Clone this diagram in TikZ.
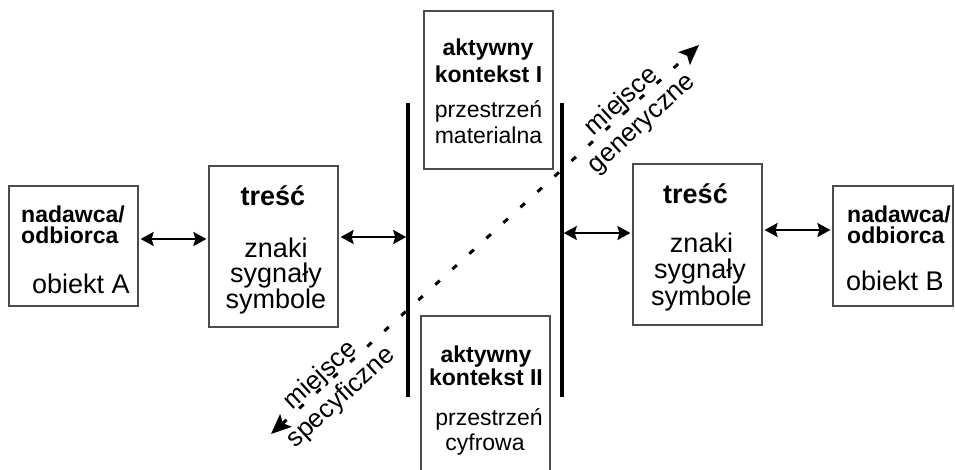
\documentclass[tikz,border=0pt]{standalone}
\usepackage{fontspec}
\setmainfont{Liberation Sans}
\usetikzlibrary{arrows.meta}
\tikzset{
  box/.style={draw=black!70, line width=1.2pt, inner sep=0pt},
  bar/.style={fill=black, inner sep=0pt, minimum width=3.2pt, minimum height=294pt},
  bsm/.style={font=\fontsize{23}{23}\selectfont\bfseries, inner sep=0pt, anchor=base},
  rsm/.style={font=\fontsize{23}{23}\selectfont, inner sep=0pt, anchor=base},
  blg/.style={font=\fontsize{27}{27}\selectfont\bfseries, inner sep=0pt, anchor=base},
  rlg/.style={font=\fontsize{27}{27}\selectfont, inner sep=0pt, anchor=base},
  diaglbl/.style={font=\fontsize{26}{26}\selectfont, inner sep=0.5pt, anchor=base, rotate=42.47},
  dbl/.style={line width=2.2pt, {Stealth[length=13pt,width=14pt,inset=2pt]}-{Stealth[length=13pt,width=14pt,inset=2pt]}},
  diag/.style={line width=3pt, dash pattern=on 6pt off 17pt, {Stealth[length=20pt,width=17pt,inset=4pt]}-{Stealth[length=20pt,width=17pt,inset=4pt]}}
}
\begin{document}
\begin{tikzpicture}[x=1pt,y=-1pt]
\useasboundingbox (0,0) rectangle (955,469);
\clip (0,0) rectangle (955,469);
\fill[white] (0,0) rectangle (955,469);

% boxes
\node[box, minimum width=129pt, minimum height=120pt] (A) at (73.5,246) {};
\node[box, minimum width=129pt, minimum height=161pt] (T1) at (273.5,246.5) {};
\node[box, minimum width=129pt, minimum height=158pt] (K1) at (488.5,90) {};
\node[box, minimum width=129pt, minimum height=162pt] (K2) at (485.5,397) {};
\node[box, minimum width=129pt, minimum height=161pt] (T2) at (697.5,244.5) {};
\node[box, minimum width=120pt, minimum height=120pt] (B) at (893,246) {};

% texts box A
\node[bsm, anchor=base west] (a1) at (21,222) {nadawca/};
\node[bsm, anchor=base west] (a2) at (21,243) {odbiorca};
\node[rlg, anchor=base west] (a3) at (32,293) {obiekt A};
% texts tresc left
\node[blg] (t1) at (273,205) {treść};
\node[rlg] (t2) at (276,257) {znaki};
\node[rlg] (t3) at (276,282) {sygnały};
\node[rlg] (t4) at (276,308) {symbole};
% texts context I
\node[bsm] (k1) at (488,55) {aktywny};
\node[bsm] (k2) at (488.5,82) {kontekst I};
\node[rsm] (k3) at (488.5,117.5) {przestrzeń};
\node[rsm] (k4) at (488.5,143) {materialna};
% texts context II
\node[bsm] (m1) at (486,362) {aktywny};
\node[bsm] (m2) at (486,385) {kontekst II};
\node[rsm] (m3) at (489,425) {przestrzeń};
\node[rsm] (m4) at (485,450) {cyfrowa};
% texts tresc right
\node[blg] (u1) at (695.5,203) {treść};
\node[rlg] (u2) at (701.5,252) {znaki};
\node[rlg] (u3) at (700,278) {sygnały};
\node[rlg] (u4) at (701.5,305) {symbole};
% texts box B
\node[bsm, anchor=base west] (b1) at (847,222) {nadawca/};
\node[bsm, anchor=base west] (b2) at (847,243) {odbiorca};
\node[rlg, anchor=base west] (b3) at (846,290) {obiekt B};

% diagonal
\coordinate (S) at (271,434);
\coordinate (E) at (699,45);
\draw[diag] (S) -- (E);
\node[diaglbl] (g1) at (626.3,106.6) {miejsce};
\node[diaglbl] (g2) at (646.5,128.7) {generyczne};
\node[diaglbl] (s1) at (325.4,380.8) {miejsce};
\node[diaglbl] (s2) at (345.7,402.9) {specyficzne};

% bars
\node[bar] (BL) at (408,250) {};
\node[bar] (BR) at (562,250) {};

% double arrows
\draw[dbl, shorten <=2pt, shorten >=2pt] (A.east |- 0,239) -- (T1.west |- 0,239);
\draw[dbl, shorten <=2pt] (T1.east |- 0,237) -- (BL.west |- 0,237);
\draw[dbl, shorten >=2pt] (BR.east |- 0,233) -- (T2.west |- 0,233);
\draw[dbl, shorten <=2pt, shorten >=2pt] (T2.east |- 0,230) -- (B.west |- 0,230);
\end{tikzpicture}
\end{document}
